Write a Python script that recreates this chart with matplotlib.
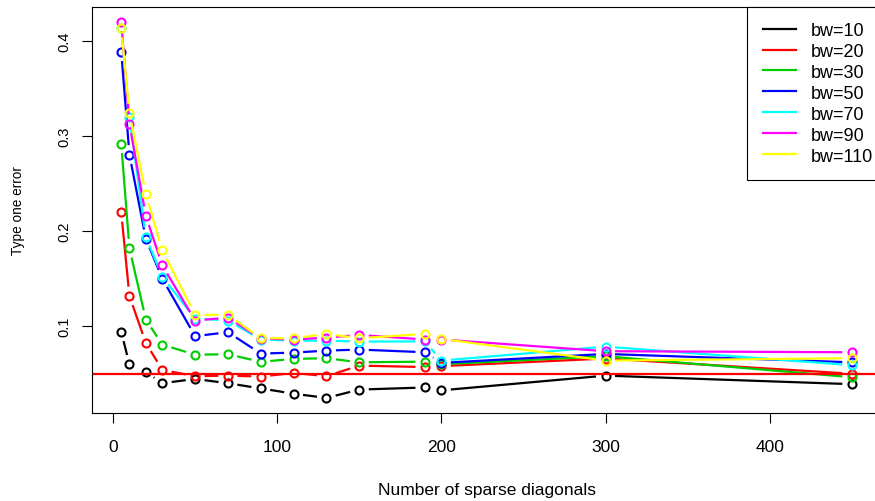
import numpy as np
import matplotlib
matplotlib.use('Agg')
import matplotlib.pyplot as plt
from matplotlib.lines import Line2D

plt.rcParams['font.family'] = ['Liberation Sans', 'DejaVu Sans']

# number of sparse diagonals
n_diag = [5, 10, 20, 30, 50, 70, 90, 110, 130, 150, 190, 200, 300, 450]

# type one error for each bandwidth
bw10 = [0.094, 0.060, 0.052, 0.040, 0.0445, 0.040, 0.0345, 0.029, 0.0245, 0.0333, 0.0355, 0.0325, 0.048, 0.039]
bw20 = [0.220, 0.1316, 0.0824, 0.054, 0.0474, 0.048, 0.047, 0.0508, 0.0474, 0.0585, 0.057, 0.058, 0.066, 0.050]
bw30 = [0.292, 0.182, 0.107, 0.0806, 0.070, 0.0705, 0.0625, 0.0656, 0.0663, 0.062, 0.0627, 0.060, 0.0684, 0.0463]
bw50 = [0.389, 0.2806, 0.192, 0.150, 0.0895, 0.0937, 0.0712, 0.0722, 0.0743, 0.0754, 0.0726, 0.0614, 0.0708, 0.062]
bw70 = [0.414, 0.320, 0.194, 0.152, 0.108, 0.106, 0.086, 0.0848, 0.0848, 0.0838, 0.084, 0.0638, 0.0785, 0.059]
bw90 = [0.4206, 0.313, 0.216, 0.164, 0.106, 0.109, 0.087, 0.086, 0.088, 0.0908, 0.086, 0.086, 0.0737, 0.0726]
bw110 = [0.414, 0.324, 0.239, 0.180, 0.112, 0.112, 0.0873, 0.0873, 0.0919, 0.0873, 0.0919, 0.0866, 0.0638, 0.0663]

labels = ['bw=10', 'bw=20', 'bw=30', 'bw=50', 'bw=70', 'bw=90', 'bw=110']
colors = ['black', '#FF0000', '#00CD00', '#0000FF', '#00FFFF', '#FF00FF', '#FFFF00']
series = [bw10, bw20, bw30, bw50, bw70, bw90, bw110]

alpha_level = 0.05

fig = plt.figure(figsize=(8.75, 5.02), dpi=100)
ax = fig.add_axes([92 / 875, 1 - 414 / 502, (881 - 92) / 875, (414 - 7.5) / 502])

# R style 4% padding around the data range
all_y = np.concatenate([np.asarray(s) for s in series])
xr = max(n_diag) - min(n_diag)
yr = all_y.max() - all_y.min()
ax.set_xlim(min(n_diag) - 0.04 * xr, max(n_diag) + 0.04 * xr)
ax.set_ylim(all_y.min() - 0.04 * yr, all_y.max() + 0.04 * yr)


def gapped_segments(ax, xs, ys, gap=9.5):
    # segments between points, cut back near each point (like type="b")
    pts = ax.transData.transform(np.column_stack([xs, ys]))
    inv = ax.transData.inverted()
    sx, sy = [], []
    for p0, p1 in zip(pts[:-1], pts[1:]):
        d = p1 - p0
        length = np.hypot(*d)
        if length <= 2 * gap:
            continue
        u = d / length
        a, b = inv.transform([p0 + u * gap, p1 - u * gap])
        sx += [a[0], b[0], np.nan]
        sy += [a[1], b[1], np.nan]
    return sx, sy


for ys, col in zip(series, colors):
    sx, sy = gapped_segments(ax, n_diag, ys)
    ax.plot(sx, sy, color=col, lw=1.6, solid_capstyle='butt')
    ax.plot(n_diag, ys, 'o', color=col, mfc='none', ms=5.8, mew=1.5)

ax.axhline(alpha_level, color='#FF0000', lw=1.6)

ax.set_xticks([0, 100, 200, 300, 400])
ax.set_yticks([0.1, 0.2, 0.3, 0.4])
ax.set_yticklabels(['0.1', '0.2', '0.3', '0.4'], rotation=90, va='center')
ax.tick_params(axis='x', length=7, width=0.8, pad=12, labelsize=12.5)
ax.tick_params(axis='y', length=7, width=0.8, pad=8, labelsize=10.5)
for sp in ax.spines.values():
    sp.set_linewidth(0.8)

ax.set_xlabel('Number of sparse diagonals', fontsize=12.5, va='center')
ax.xaxis.set_label_coords(0.5, (414 - 491) / 406.5)
ax.set_ylabel('Type one error', fontsize=9.8, va='center')
ax.yaxis.set_label_coords((18 - 92) / 789, 0.5)

handles = [Line2D([], [], color=c, lw=1.6) for c in colors]
leg = ax.legend(handles, labels, loc='upper right', bbox_to_anchor=(1.0093, 1),
                borderaxespad=0, fontsize=13, handlelength=1.83,
                handletextpad=0.83, labelspacing=0.22, borderpad=0.85,
                fancybox=False, framealpha=1, edgecolor='black')
leg.get_frame().set_linewidth(0.8)

fig.savefig('out.png', dpi=100)
